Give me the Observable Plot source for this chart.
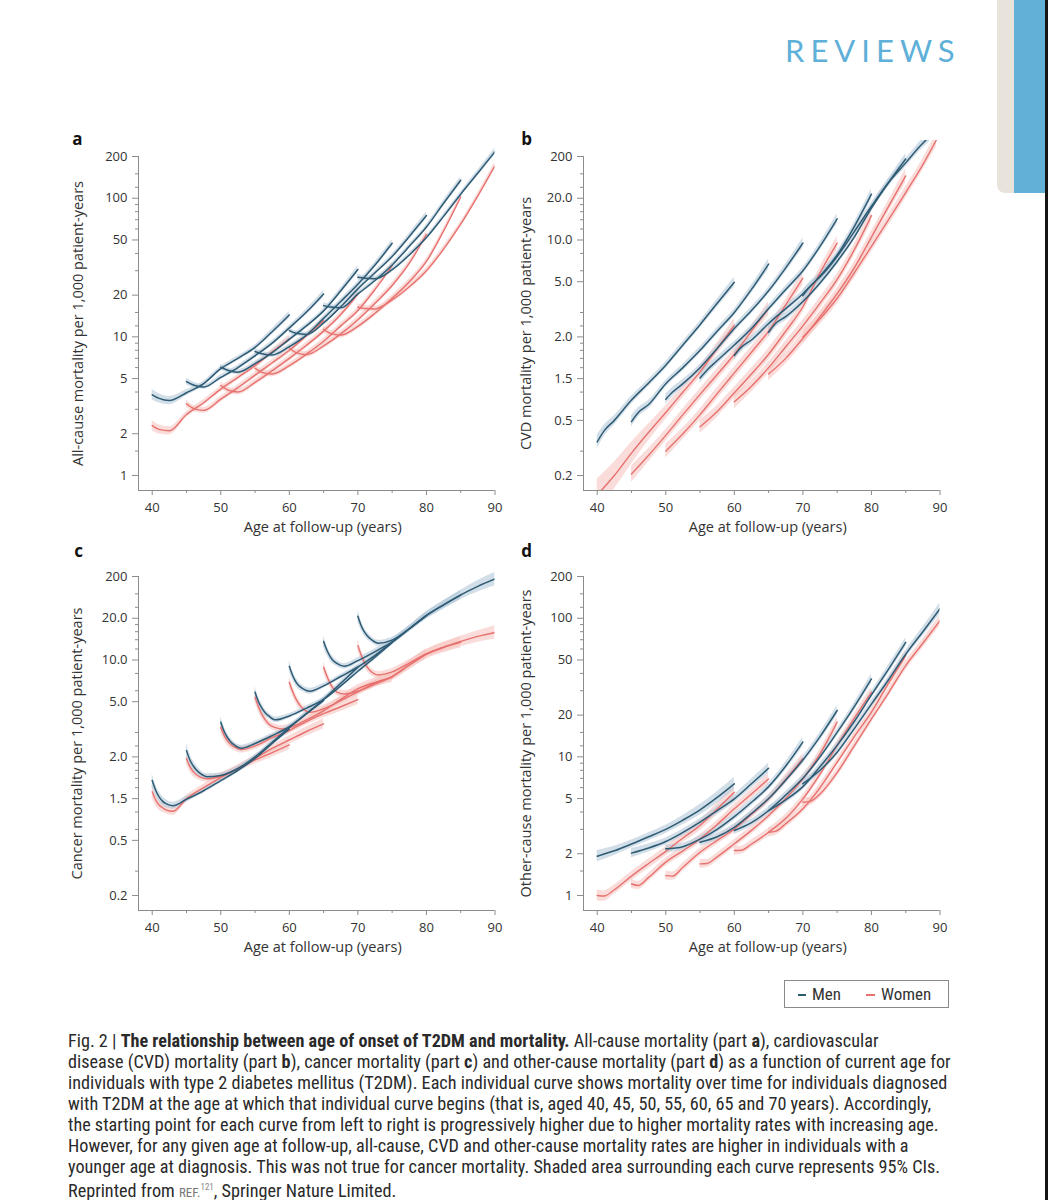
<!DOCTYPE html>
<html>
<head>
<meta charset="utf-8">
<script src="https://cdn.jsdelivr.net/npm/d3@7"></script>
<script src="https://cdn.jsdelivr.net/npm/@observablehq/plot@0.6"></script>
<style>
  body { margin: 0; background: #fff; }
  #page { position: relative; width: 1048px; height: 1200px; overflow: hidden; background: #fff; }
  .panel { position: absolute; }
  #header { position: absolute; left: 785px; top: 35px; font-family: Lato, "Open Sans", sans-serif; font-size: 31px; line-height: 1; letter-spacing: 6px; color: #5fb0d8; }
  #tabBeige { position: absolute; left: 997px; top: 0; width: 18px; height: 193px; background: #e8e4dc; border-bottom-left-radius: 8px; }
  #tabBlue { position: absolute; left: 1014px; top: 0; width: 31px; height: 193px; background: #62b0d8; }
  #tabEdge { position: absolute; left: 1045px; top: 0; width: 3px; height: 1200px; background: #151515; }
  #legend { position: absolute; left: 784px; top: 980px; width: 165px; height: 28px; box-sizing: border-box; border: 1px solid #8a8a8a; font-family: "Liberation Sans Narrow", "Roboto Condensed", "DejaVu Sans Condensed", sans-serif; font-stretch: condensed; font-size: 17px; color: #333; }
  #legend .dash { position: absolute; top: 13px; height: 1.6px; }
  #legend .lab { position: absolute; top: 3px; line-height: 20px; }
  #caption { position: absolute; left: 68px; top: 1030px; font-family: "Liberation Sans Narrow", "Roboto Condensed", "DejaVu Sans Condensed", sans-serif; font-stretch: condensed; font-size: 18.2px; line-height: 21px; color: #2a2a2a; white-space: nowrap; }
  #caption .ref { font-size: 13px; color: #777; }
  #caption sup { font-size: 9px; color: #888; }
</style>
</head>
<body>
<div id="page">
  <div id="header">REVIEWS</div>
  <div id="tabBeige"></div>
  <div id="tabBlue"></div>
  <div id="tabEdge"></div>
  <div id="pa" class="panel" style="left:40px; top:130px;"></div>
  <div id="pb" class="panel" style="left:485px; top:130px;"></div>
  <div id="pc" class="panel" style="left:40px; top:550px;"></div>
  <div id="pd" class="panel" style="left:485px; top:550px;"></div>
  <div id="legend">
    <div class="dash" style="left:13px; width:8px; background:#2e5b74;"></div>
    <div class="lab" style="left:27px;">Men</div>
    <div class="dash" style="left:81px; width:9px; background:#e7716f;"></div>
    <div class="lab" style="left:96px;">Women</div>
  </div>
  <div id="caption">
    Fig. 2 | <b>The relationship between age of onset of T2DM and mortality.</b> All-cause mortality (part <b>a</b>), cardiovascular<br>
    disease (CVD) mortality (part <b>b</b>), cancer mortality (part <b>c</b>) and other-cause mortality (part <b>d</b>) as a function of current age for<br>
    individuals with type 2 diabetes mellitus (T2DM). Each individual curve shows mortality over time for individuals diagnosed<br>
    with T2DM at the age at which that individual curve begins (that is, aged 40, 45, 50, 55, 60, 65 and 70 years). Accordingly,<br>
    the starting point for each curve from left to right is progressively higher due to higher mortality rates with increasing age.<br>
    However, for any given age at follow-up, all-cause, CVD and other-cause mortality rates are higher in individuals with a<br>
    younger age at diagnosis. This was not true for cancer mortality. Shaded area surrounding each curve represents 95% CIs.<br>
    Reprinted from <span class="ref">REF.</span><sup>121</sup>, Springer Nature Limited.
  </div>
</div>
<script>
// ---------- DATA ----------
const onsetAges = [40, 45, 50, 55, 60, 65, 70];
const xMajorTicks = [40, 50, 60, 70, 80, 90];
const xMinorTicks = [45, 55, 65, 75, 85];

// y ticks: panels a and d
const ticksAD = [1, 2, 5, 10, 20, 50, 100, 200];
const labelsAD = ["1", "2", "5", "10", "20", "50", "100", "200"];
const minorAD = [1.5, 3, 4, 6, 7, 8, 9, 12, 15, 30, 40, 60, 70, 80, 90, 120, 150];
// y ticks: panels b and c (labels as printed in the figure)
const ticksBC = [0.2, 0.5, 1, 2, 5, 10, 20, 40];
const labelsBC = ["0.2", "0.5", "1.5", "2.0", "5.0", "10.0", "20.0", "200"];
const minorBC = [0.3, 0.6, 0.8, 1.2, 1.4, 1.6, 1.8, 2.4, 3, 6, 8, 12, 14, 16, 18, 24, 30];

// each curve: [age, value, relative 95% CI half-width]
const allCauseMen = [
  [[40,3.82,.09],[41,3.6,.08],[42.5,3.47,.07],[45,3.95,.05],[47.5,4.6,.04],[50,5.9,.04],[52.5,7.0,.04],[55,8.4,.04],[57.5,10.9,.05],[60,14.4,.06]],
  [[45,4.76,.06],[46,4.5,.05],[47.5,4.35,.04],[50,5.1,.04],[52.5,6.0,.04],[55,7.3,.04],[57.5,9.0,.04],[60,11.6,.04],[62.5,15.1,.05],[65,20.4,.06]],
  [[50,6.04,.05],[51,5.75,.04],[52.5,5.56,.04],[55,6.4,.04],[57.5,7.7,.04],[60,9.6,.04],[62.5,12.0,.04],[65,15.4,.04],[67.5,21.5,.05],[70,30.6,.06]],
  [[55,7.84,.05],[56,7.55,.04],[57.5,7.4,.04],[60,8.5,.04],[62.5,10.3,.04],[65,13.6,.04],[67.5,18,.04],[70,24,.04],[72.5,33,.05],[75,47.3,.06]],
  [[60,11.1,.05],[61,10.6,.04],[62.5,10.4,.04],[65,12.6,.04],[67.5,16.5,.04],[70,22.2,.04],[72.5,29,.04],[75,38,.04],[77.5,53,.05],[80,75,.06]],
  [[65,16.8,.05],[66,16.4,.04],[67.5,16.2,.04],[70,20.4,.04],[72.5,25.5,.04],[75,33,.04],[77.5,45,.04],[80,62,.04],[82.5,92,.05],[85,135,.06]],
  [[70,26.9,.05],[71,26.5,.04],[72.5,26.3,.04],[75,30.5,.04],[77.5,39,.04],[80,52,.04],[82.5,74,.04],[85,107,.04],[87.5,152,.05],[90,217,.06]]
];
const allCauseWomen = [
  [[40,2.29,.09],[41,2.15,.08],[42.5,2.1,.07],[45,2.75,.05],[47.5,3.35,.05],[50,4.2,.05],[52.5,5.1,.05],[55,6.2,.05],[57.5,7.8,.05],[60,9.7,.06]],
  [[45,3.29,.06],[46,3.05,.05],[47.5,2.95,.05],[50,3.55,.05],[52.5,4.3,.05],[55,5.3,.05],[57.5,6.5,.05],[60,8.0,.05],[62.5,10.2,.05],[65,13.1,.06]],
  [[50,4.46,.06],[51,4.15,.05],[52.5,4.0,.05],[55,4.7,.05],[57.5,5.7,.05],[60,7.0,.05],[62.5,8.7,.05],[65,11,.05],[67.5,14.5,.05],[70,20.4,.06]],
  [[55,5.94,.06],[56,5.55,.05],[57.5,5.4,.05],[60,6.2,.05],[62.5,7.5,.05],[65,9.3,.05],[67.5,12,.05],[70,15.5,.05],[72.5,22,.05],[75,32.7,.06]],
  [[60,8.28,.06],[61,7.7,.05],[62.5,7.45,.05],[65,8.6,.05],[67.5,10.5,.05],[70,13.3,.05],[72.5,17.5,.05],[75,23.5,.05],[77.5,34,.05],[80,55,.06]],
  [[65,11.3,.06],[66,10.6,.05],[67.5,10.3,.05],[70,11.9,.05],[72.5,14.8,.05],[75,19,.05],[77.5,25,.05],[80,35,.05],[82.5,58,.05],[85,102,.06]],
  [[70,16.4,.06],[71,16.0,.05],[72.5,15.9,.05],[75,18.5,.05],[77.5,23,.05],[80,30,.05],[82.5,43,.05],[85,65,.05],[87.5,104,.05],[90,172,.06]]
];
const cvdMen = [
  [[40,0.35,.12],[41,0.42,.1],[42.5,0.5,.08],[45,0.7,.07],[47.5,0.93,.06],[50,1.25,.06],[52.5,1.75,.06],[55,2.45,.06],[57.5,3.5,.07],[60,4.95,.09]],
  [[45,0.49,.1],[46,0.57,.08],[47.5,0.65,.07],[50,0.92,.06],[52.5,1.2,.06],[55,1.6,.06],[57.5,2.2,.06],[60,3.0,.06],[62.5,4.4,.07],[65,6.7,.09]],
  [[50,0.71,.09],[51,0.8,.08],[52.5,0.92,.07],[55,1.2,.06],[57.5,1.65,.06],[60,2.3,.06],[62.5,3.1,.06],[65,4.3,.06],[67.5,6.3,.07],[70,9.5,.09]],
  [[55,1.01,.09],[56,1.15,.08],[57.5,1.35,.07],[60,1.75,.06],[62.5,2.3,.06],[65,3.2,.06],[67.5,4.4,.06],[70,6.0,.06],[72.5,9.0,.07],[75,14.2,.09]],
  [[60,1.47,.09],[61,1.68,.08],[62.5,1.9,.07],[65,2.5,.06],[67.5,3.2,.06],[70,4.1,.06],[72.5,5.5,.06],[75,7.8,.06],[77.5,12.5,.07],[80,21.4,.09]],
  [[65,2.16,.09],[66,2.5,.08],[67.5,2.8,.07],[70,3.6,.06],[72.5,4.9,.06],[75,7.0,.06],[77.5,10.5,.06],[80,17,.06],[82.5,26,.07],[85,38.4,.09]],
  [[70,3.97,.09],[71,4.6,.08],[72.5,5.4,.07],[75,7.6,.06],[77.5,11.5,.06],[80,17.5,.06],[82.5,26,.06],[85,36,.07],[87,47,.08],[88.5,56,.09]]
];
const cvdWomen = [
  [[40,0.145,.3],[42.5,0.2,.25],[45,0.29,.2],[47.5,0.41,.15],[50,0.57,.12],[52.5,0.8,.1],[55,1.12,.1],[57.5,1.65,.1],[60,2.42,.12]],
  [[45,0.205,.15],[47.5,0.28,.12],[50,0.39,.1],[52.5,0.55,.1],[55,0.77,.1],[57.5,1.07,.1],[60,1.5,.1],[62.5,2.2,.1],[65,3.2,.12]],
  [[50,0.3,.12],[52.5,0.4,.1],[55,0.55,.1],[57.5,0.78,.1],[60,1.1,.1],[62.5,1.55,.1],[65,2.2,.1],[67.5,3.4,.1],[70,5.3,.12]],
  [[55,0.45,.12],[57.5,0.58,.1],[60,0.79,.1],[62.5,1.08,.1],[65,1.5,.1],[67.5,2.2,.1],[70,3.3,.1],[72.5,5.8,.1],[75,9.5,.12]],
  [[60,0.68,.12],[62.5,0.88,.1],[65,1.2,.1],[67.5,1.7,.1],[70,2.4,.1],[72.5,3.5,.1],[75,5.2,.1],[77.5,8.5,.1],[80,15,.12]],
  [[65,1.08,.12],[67.5,1.4,.1],[70,1.95,.1],[72.5,2.8,.1],[75,4.1,.1],[77.5,6.3,.1],[80,10.5,.1],[82.5,17.5,.1],[85,29,.12]],
  [[70,1.99,.12],[72.5,2.7,.1],[75,3.8,.1],[77.5,5.8,.1],[80,9,.1],[82.5,14,.1],[85,22,.1],[87.5,35,.1],[89.5,53,.12]]
];
const cancerMen = [
  [[40,1.35,.12],[40.5,1.15,.1],[41,1.03,.09],[41.5,0.96,.08],[42,0.92,.07],[43,0.89,.06],[45,0.99,.05],[47.5,1.14,.04],[50,1.35,.04],[52.5,1.6,.04],[55,1.95,.04],[57.5,2.5,.04],[60,3.18,.05]],
  [[45,2.22,.12],[45.5,1.9,.1],[46,1.72,.08],[46.5,1.6,.07],[47,1.52,.06],[48,1.44,.05],[50,1.47,.04],[52.5,1.65,.04],[55,2.0,.04],[57.5,2.55,.04],[60,3.25,.04],[62.5,4.1,.04],[65,5.1,.05]],
  [[50,3.56,.1],[50.5,3.05,.08],[51,2.75,.07],[51.5,2.55,.06],[52,2.43,.05],[53,2.31,.05],[55,2.5,.04],[57.5,2.85,.04],[60,3.3,.04],[62.5,4.1,.04],[65,5.2,.04],[67.5,6.8,.04],[70,8.87,.05]],
  [[55,5.85,.1],[55.5,5.0,.08],[56,4.5,.07],[56.5,4.15,.06],[57,3.95,.05],[58,3.7,.05],[60,3.95,.04],[62.5,4.5,.04],[65,5.2,.04],[67.5,6.5,.04],[70,8.3,.04],[72.5,10.5,.05],[75,13.4,.05]],
  [[60,9.0,.1],[60.5,7.7,.08],[61,6.9,.07],[61.5,6.45,.06],[62,6.2,.05],[63,5.95,.05],[65,6.5,.04],[67.5,7.6,.04],[70,8.9,.04],[72.5,10.8,.04],[75,13.4,.05],[77.5,16.8,.05],[80,20.9,.06]],
  [[65,13.6,.1],[65.5,11.7,.08],[66,10.5,.07],[66.5,9.8,.06],[67,9.4,.05],[68,9.0,.05],[70,9.9,.05],[72.5,11.5,.05],[75,13.5,.05],[77.5,16.8,.05],[80,21,.06],[82.5,25,.07],[85,29.4,.08]],
  [[70,20.7,.1],[70.5,17.6,.08],[71,15.8,.07],[71.5,14.7,.06],[72,14.0,.05],[73,13.2,.05],[75,13.9,.05],[77.5,16.8,.05],[80,20.9,.06],[82.5,25,.07],[85,29.5,.08],[87.5,34,.1],[90,38.4,.12]]
];
const cancerWomen = [
  [[40,1.12,.12],[40.5,0.98,.1],[41,0.9,.09],[41.5,0.86,.08],[42,0.83,.07],[43,0.81,.07],[45,1.0,.06],[47.5,1.2,.06],[50,1.42,.06],[52.5,1.65,.06],[55,1.9,.07],[57.5,2.15,.08],[60,2.44,.09]],
  [[45,1.94,.1],[45.5,1.7,.09],[46,1.56,.08],[46.5,1.48,.07],[47,1.43,.06],[48,1.39,.06],[50,1.45,.06],[52.5,1.65,.06],[55,1.95,.06],[57.5,2.3,.06],[60,2.65,.07],[62.5,3.05,.08],[65,3.46,.09]],
  [[50,3.27,.1],[50.5,2.85,.09],[51,2.6,.08],[51.5,2.45,.07],[52,2.35,.06],[53,2.26,.06],[55,2.4,.06],[57.5,2.75,.06],[60,3.1,.06],[62.5,3.6,.06],[65,4.1,.07],[67.5,4.6,.08],[70,5.18,.09]],
  [[55,5.38,.1],[55.5,4.6,.09],[56,4.05,.08],[56.5,3.7,.07],[57,3.45,.06],[58,3.25,.06],[59,3.18,.06],[60,3.25,.06],[62.5,3.7,.06],[65,4.3,.06],[67.5,5.2,.06],[70,6.2,.07],[72.5,6.9,.08],[75,7.5,.09]],
  [[60,6.9,.1],[60.5,5.9,.09],[61,5.2,.08],[61.5,4.75,.07],[62,4.45,.06],[63,4.2,.06],[65,4.45,.06],[67.5,5.1,.06],[70,5.9,.06],[72.5,6.8,.06],[75,7.6,.07],[77.5,9.2,.08],[80,11.1,.09]],
  [[65,8.87,.1],[65.5,7.6,.09],[66,6.7,.08],[66.5,6.15,.07],[67,5.85,.06],[68,5.69,.06],[70,5.95,.06],[72.5,6.7,.06],[75,7.6,.06],[77.5,9.2,.07],[80,11.0,.08],[82.5,12.3,.09],[85,13.4,.1]],
  [[70,12.7,.1],[70.5,10.8,.09],[71,9.5,.08],[71.5,8.7,.07],[72,8.2,.06],[73,7.8,.06],[75,8.2,.06],[77.5,9.5,.06],[80,11.1,.07],[82.5,12.4,.08],[85,13.6,.09],[87.5,14.8,.1],[90,15.8,.12]]
];
const otherMen = [
  [[40,1.92,.1],[42.5,2.1,.08],[45,2.35,.07],[47.5,2.65,.07],[50,3.0,.07],[52.5,3.5,.08],[55,4.15,.09],[57.5,5.1,.1],[60,6.39,.11]],
  [[45,2.02,.08],[47.5,2.2,.07],[50,2.45,.06],[52.5,2.85,.06],[55,3.38,.06],[57.5,4.1,.07],[60,4.98,.07],[62.5,6.4,.08],[65,8.28,.09]],
  [[50,2.17,.07],[52.5,2.25,.06],[55,2.55,.06],[57.5,3.0,.06],[60,3.7,.06],[62.5,4.7,.06],[65,6.1,.06],[67.5,8.6,.07],[70,12.8,.08]],
  [[55,2.42,.07],[57.5,2.65,.06],[60,3.1,.06],[62.5,3.9,.06],[65,5.0,.06],[67.5,6.8,.06],[70,9.5,.06],[72.5,14,.07],[75,21.6,.08]],
  [[60,2.94,.07],[62.5,3.35,.06],[65,4.1,.06],[67.5,5.3,.06],[70,7.0,.06],[72.5,10,.06],[75,15,.06],[77.5,23,.07],[80,36.5,.08]],
  [[65,4.1,.07],[67.5,4.9,.06],[70,6.1,.06],[72.5,8.5,.06],[75,12.1,.06],[77.5,18,.06],[80,28,.06],[82.5,43,.07],[85,67,.08]],
  [[70,6.4,.07],[72.5,8.0,.06],[75,10.8,.06],[77.5,16,.06],[80,24,.06],[82.5,36,.06],[85,55,.07],[87.5,80,.08],[90,117,.1]]
];
const otherWomen = [
  [[40,1.0,.1],[41,0.99,.09],[42.5,1.1,.08],[45,1.38,.08],[47.5,1.7,.08],[50,2.08,.08],[52.5,2.6,.08],[55,3.2,.09],[57.5,4.2,.1],[60,5.56,.11]],
  [[45,1.21,.08],[46,1.18,.07],[47.5,1.35,.07],[50,1.74,.07],[52.5,2.1,.07],[55,2.56,.07],[57.5,3.25,.07],[60,4.22,.08],[62.5,5.4,.08],[65,6.93,.09]],
  [[50,1.39,.08],[51,1.38,.07],[52.5,1.6,.07],[55,2.05,.07],[57.5,2.5,.07],[60,3.02,.07],[62.5,3.85,.07],[65,4.98,.07],[67.5,6.9,.08],[70,9.7,.09]],
  [[55,1.69,.08],[56,1.7,.07],[57.5,1.9,.07],[60,2.36,.07],[62.5,2.95,.07],[65,3.78,.07],[67.5,5.0,.07],[70,6.93,.07],[72.5,10.5,.08],[75,17.8,.09]],
  [[60,2.11,.08],[61,2.12,.07],[62.5,2.35,.07],[65,2.86,.07],[67.5,3.6,.07],[70,4.98,.07],[72.5,7.5,.07],[75,12.1,.07],[77.5,19,.08],[80,29.2,.09]],
  [[65,2.86,.08],[66,2.9,.07],[67.5,3.3,.07],[70,4.22,.07],[72.5,6.0,.07],[75,9.15,.07],[77.5,14,.07],[80,21,.07],[82.5,34,.08],[85,53.8,.09]],
  [[70,4.71,.08],[71,4.75,.07],[72.5,5.4,.07],[75,7.7,.07],[77.5,12,.07],[80,18.8,.07],[82.5,29,.07],[85,45.5,.08],[87.5,66,.08],[90,96,.09]]
];

const xLabel = "Age at follow-up (years)";

// ---------- STYLE ----------
const MEN = "#2e5b74", MEN_BAND = "#b4c8d8";
const WOMEN = "#e7716f", WOMEN_BAND = "#f7c6c2";
const AXIS = "#8c8c8c", INK = "#333";
const FONT = "'Open Sans', 'Noto Sans', sans-serif";

function toRows(curves) {
  return curves.flatMap((c, i) => c.map(([age, v, ci]) => ({onset: onsetAges[i], age, v, lo: v / (1 + ci), hi: v * (1 + ci)})));
}

function panel(o) {
  const men = toRows(o.men), women = toRows(o.women);
  const xMin = 38;
  return Plot.plot({
    width: 470, height: 410,
    marginLeft: 98, marginRight: 15.5, marginTop: 10, marginBottom: 50,
    style: {background: "transparent", overflow: "visible", fontFamily: FONT, fontSize: "13px", color: INK},
    x: {domain: [xMin, 90]},
    y: {type: "log", domain: o.domain},
    marks: [
      Plot.areaY(women, {x: "age", y1: "lo", y2: "hi", z: "onset", fill: WOMEN_BAND, fillOpacity: 0.6, curve: "monotone-x", clip: true}),
      Plot.areaY(men, {x: "age", y1: "lo", y2: "hi", z: "onset", fill: MEN_BAND, fillOpacity: 0.6, curve: "monotone-x", clip: true}),
      Plot.line(women, {x: "age", y: "v", z: "onset", stroke: WOMEN, strokeWidth: 1.4, curve: "monotone-x", clip: true}),
      Plot.line(men, {x: "age", y: "v", z: "onset", stroke: MEN, strokeWidth: 1.5, curve: "monotone-x", clip: true}),
      Plot.ruleY([o.domain[0]], {stroke: AXIS, strokeWidth: 1}),
      Plot.ruleX([xMin], {y1: o.domain[0], y2: o.ticks[o.ticks.length - 1], stroke: AXIS, strokeWidth: 1}),
      Plot.axisY(o.ticks, {tickSize: 6, stroke: AXIS, label: null, tickFormat: () => ""}),
      Plot.axisY(o.minor, {tickSize: 3, stroke: AXIS, label: null, tickFormat: () => ""}),
      Plot.text(o.ticks, {frameAnchor: "left", y: d => d, text: d => o.labels[o.ticks.indexOf(d)], textAnchor: "end", lineAnchor: "middle", dx: -11, fontSize: 13, fill: INK}),
      Plot.axisX(xMajorTicks, {tickSize: 5, tickPadding: 7, stroke: AXIS, fill: INK, fontSize: 13, label: null}),
      Plot.axisX(xMinorTicks, {tickSize: 3, stroke: AXIS, label: null, tickFormat: () => ""}),
      Plot.text([o.yLabel], {frameAnchor: "left", rotate: -90, dx: o.yLabelDx, dy: 8, textAnchor: "middle", lineAnchor: "middle", fontSize: 14.5, fill: INK}),
      Plot.text([xLabel], {frameAnchor: "bottom", dx: 6, dy: 37, textAnchor: "middle", lineAnchor: "middle", fontSize: 14.5, fill: INK}),
      Plot.text([o.letter], {frameAnchor: "top-left", dx: o.letterDx, dy: o.letterDy, textAnchor: "middle", lineAnchor: "middle", fontSize: 17, fontWeight: "bold", fill: "#111"})
    ]
  });
}

const domainAD = [0.779, 261];
const domainBC = [0.156, 52.2];

document.getElementById("pa").append(panel({men: allCauseMen, women: allCauseWomen, ticks: ticksAD, labels: labelsAD, minor: minorAD, domain: domainAD,
  yLabel: "All-cause mortality per 1,000 patient-years", yLabelDx: -60, letter: "a", letterDx: -61, letterDy: -1}));
document.getElementById("pb").append(panel({men: cvdMen, women: cvdWomen, ticks: ticksBC, labels: labelsBC, minor: minorBC, domain: domainBC,
  yLabel: "CVD mortality per 1,000 patient-years", yLabelDx: -57, letter: "b", letterDx: -57, letterDy: -1}));
document.getElementById("pc").append(panel({men: cancerMen, women: cancerWomen, ticks: ticksBC, labels: labelsBC, minor: minorBC, domain: domainBC,
  yLabel: "Cancer mortality per 1,000 patient-years", yLabelDx: -61.5, letter: "c", letterDx: -60, letterDy: -8.5}));
document.getElementById("pd").append(panel({men: otherMen, women: otherWomen, ticks: ticksAD, labels: labelsAD, minor: minorAD, domain: domainAD,
  yLabel: "Other-cause mortality per 1,000 patient-years", yLabelDx: -57, letter: "d", letterDx: -57, letterDy: -8.5}));
</script>
</body>
</html>
